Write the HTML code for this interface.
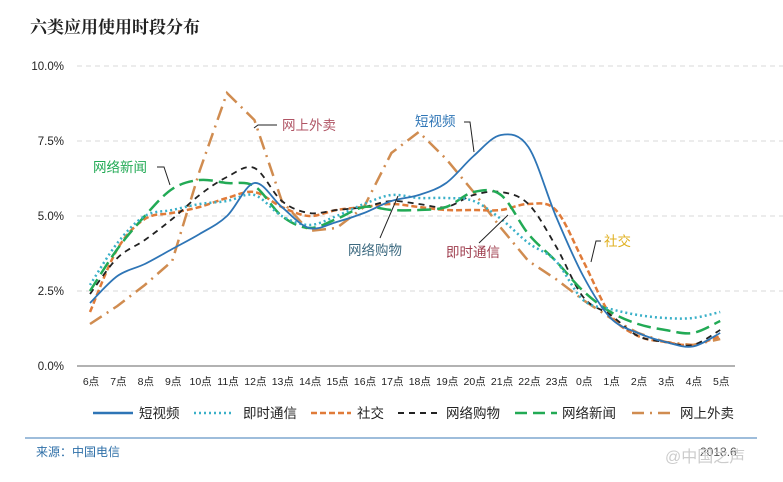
<!DOCTYPE html>
<html><head><meta charset="utf-8"><style>
body{margin:0;background:#fff;}
svg text{font-family:"Liberation Sans","Noto Sans CJK SC",sans-serif;}
</style></head><body>
<svg id="s" width="783" height="477" xmlns="http://www.w3.org/2000/svg">
<text x="30" y="33" font-size="17" font-weight="bold" fill="#222" style="font-family:'Noto Serif CJK SC','Noto Sans CJK SC',serif">六类应用使用时段分布</text>
<g font-size="11.5" fill="#222" text-anchor="end">
<text x="64" y="70">10.0%</text><text x="64" y="145">7.5%</text><text x="64" y="220">5.0%</text><text x="64" y="295">2.5%</text><text x="64" y="370">0.0%</text>
</g>
<g stroke="#d8d8d8" stroke-dasharray="5,4" stroke-width="1">
<line x1="77" y1="66" x2="783" y2="66"/><line x1="77" y1="141" x2="783" y2="141"/><line x1="77" y1="216" x2="783" y2="216"/><line x1="77" y1="291" x2="783" y2="291"/>
</g>
<line x1="77" y1="366" x2="735" y2="366" stroke="#999" stroke-width="1.5"/>
<g id="xl" font-size="10.5" fill="#222" text-anchor="middle"></g>
<g id="lines"></g>
<g font-size="13.5">
<text x="282" y="130" fill="#b05565">网上外卖</text>
<text x="415" y="126" fill="#2e75b6">短视频</text>
<text x="93" y="172" fill="#22aa55">网络新闻</text>
<text x="348" y="255" fill="#3d6a80">网络购物</text>
<text x="446" y="257" fill="#a04050">即时通信</text>
<text x="604" y="246" fill="#e0b020">社交</text>
</g>
<g stroke="#222" stroke-width="1" fill="none">
<polyline points="277,125 258,125 254,128"/>
<polyline points="464,122 470,122 474,152"/>
<polyline points="157,167 164,167 170,185"/>
<polyline points="380,238 398,196"/>
<polyline points="479,243 508,215"/>
<polyline points="601,241 596,241 591,262"/>
</g>
<g font-size="13.5" fill="#222">
<line x1="93" y1="413" x2="133" y2="413" stroke="#2e75b6" stroke-width="2.5"/><text x="139" y="418">短视频</text>
<line x1="194" y1="413" x2="234" y2="413" stroke="#3ab0c8" stroke-width="2.5" stroke-dasharray="2,3"/><text x="243" y="418">即时通信</text>
<line x1="311" y1="413" x2="351" y2="413" stroke="#e07b39" stroke-width="2.5" stroke-dasharray="6,3"/><text x="357" y="418">社交</text>
<line x1="398" y1="413" x2="438" y2="413" stroke="#222" stroke-width="2" stroke-dasharray="6,5"/><text x="446" y="418">网络购物</text>
<line x1="515" y1="413" x2="557" y2="413" stroke="#22aa55" stroke-width="2.5" stroke-dasharray="12,6"/><text x="562" y="418">网络新闻</text>
<line x1="632" y1="413" x2="672" y2="413" stroke="#d08c50" stroke-width="2.5" stroke-dasharray="12,6,2,6"/><text x="680" y="418">网上外卖</text>
</g>
<line x1="25" y1="438" x2="757" y2="438" stroke="#7fa7cf" stroke-width="1.5"/>
<text x="36" y="456" font-size="12" fill="#2e6fa8">来源：中国电信</text>
<text x="700" y="456" font-size="12" fill="#555">2018.6</text>
<text x="665" y="462" font-size="16" fill="#ccc">@中国之声</text>
</svg>
<script>
const ns="http://www.w3.org/2000/svg";
const X=i=>90+27.4*i, Y=v=>366-30*v;
const labs=["6点","7点","8点","9点","10点","11点","12点","13点","14点","15点","16点","17点","18点","19点","20点","21点","22点","23点","0点","1点","2点","3点","4点","5点"];
const xl=document.getElementById('xl');
labs.forEach((l,i)=>{const t=document.createElementNS(ns,'text');t.setAttribute('x',X(i)+1);t.setAttribute('y',385);t.textContent=l;xl.appendChild(t);});
function smooth(d){const p=d.map((v,i)=>[X(i),Y(v)]);let s=`M${p[0][0]},${p[0][1]}`;
for(let i=0;i<p.length-1;i++){const p0=p[i-1]||p[i],p1=p[i],p2=p[i+1],p3=p[i+2]||p2;
s+=` C${p1[0]+(p2[0]-p0[0])/6},${p1[1]+(p2[1]-p0[1])/6} ${p2[0]-(p3[0]-p1[0])/6},${p2[1]-(p3[1]-p1[1])/6} ${p2[0]},${p2[1]}`;}return s;}
function lin(d){return 'M'+d.map((v,i)=>X(i)+','+Y(v)).join(' L');}
const S=[
[lin([1.4,2.0,2.7,3.5,6.5,9.1,8.2,5.5,4.5,4.6,5.3,7.1,7.8,6.9,5.8,4.6,3.5,2.9,2.2,1.6,1.1,0.8,0.7,0.9]),"#d08c50",2.5,"14,6,2,6"],
[smooth([1.8,3.9,4.9,5.1,5.3,5.6,5.8,5.3,5.0,5.2,5.3,5.4,5.3,5.2,5.2,5.2,5.4,5.2,3.5,1.7,1.0,0.8,0.7,1.0]),"#e07b39",2.5,"6,3"],
[smooth([2.4,3.6,4.2,4.9,5.7,6.3,6.6,5.5,5.1,5.2,5.3,5.5,5.4,5.3,5.7,5.8,5.4,4.0,2.3,1.7,1.0,0.8,0.7,1.2]),"#222",1.8,"6,5"],
[smooth([2.5,3.9,5.0,5.9,6.2,6.1,6.0,5.0,4.6,4.9,5.3,5.2,5.2,5.3,5.8,5.7,4.4,3.5,2.5,1.8,1.4,1.2,1.1,1.5]),"#22aa55",2.5,"14,6"],
[smooth([2.7,4.1,5.0,5.2,5.4,5.5,5.7,5.0,4.7,5.0,5.4,5.7,5.6,5.6,5.5,4.9,4.1,3.5,2.2,1.9,1.7,1.6,1.6,1.8]),"#3ab0c8",2.5,"2,3"],
[smooth([2.1,3.0,3.4,3.9,4.4,5.0,6.1,5.3,4.6,4.8,5.1,5.5,5.7,6.1,7.0,7.7,7.3,5.0,3.0,1.6,1.1,0.8,0.65,1.1]),"#2e75b6",1.8,""]];
const g=document.getElementById('lines');
S.forEach(([d,c,w,da])=>{const p=document.createElementNS(ns,'path');p.setAttribute('d',d);p.setAttribute('fill','none');p.setAttribute('stroke',c);p.setAttribute('stroke-width',w);if(da)p.setAttribute('stroke-dasharray',da);g.appendChild(p);});
</script>
</body></html>
